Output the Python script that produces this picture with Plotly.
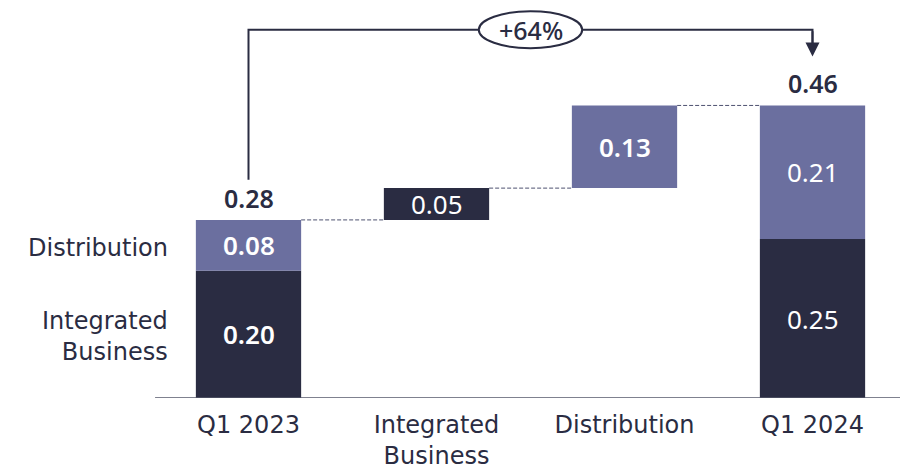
import plotly.graph_objects as go

# Earnings bridge: Q1 2023 -> Q1 2024, split by segment
categories = ["Q1 2023", "Integrated<br>Business", "Distribution", "Q1 2024"]
segments = ["Integrated Business", "Distribution"]

start_values = [0.20, 0.08]      # Q1 2023: Integrated Business, Distribution
change_values = [0.05, 0.13]     # increments: Integrated Business, Distribution
end_values = [0.25, 0.21]        # Q1 2024: Integrated Business, Distribution
start_total = 0.28
end_total = 0.46
growth_label = "+64%"

DARK = "#2a2c42"
LIGHT = "#6b6f9f"
TEXT = "#2a2c42"
WORD_FONT = "DejaVu Sans"
NUM_FONT = "Noto Sans"
BAR_W = 0.56

# running totals for the floating bars
level_after_integrated = start_total + change_values[0]
level_after_distribution = level_after_integrated + change_values[1]

fig = go.Figure()

# Integrated Business (dark) pieces
fig.add_trace(go.Bar(
    x=[categories[0], categories[1], categories[3]],
    y=[start_values[0], change_values[0], end_values[0]],
    base=[0, start_total, 0],
    marker=dict(color=DARK, line=dict(width=0)),
    width=BAR_W, hoverinfo="skip", showlegend=False,
))
# Distribution (light) pieces
fig.add_trace(go.Bar(
    x=[categories[0], categories[2], categories[3]],
    y=[start_values[1], change_values[1], end_values[1]],
    base=[start_values[0], level_after_integrated, end_values[0]],
    marker=dict(color=LIGHT, line=dict(width=0)),
    width=BAR_W, hoverinfo="skip", showlegend=False,
))

annotations = []

def inside_label(xi, y_mid, value, weight):
    annotations.append(dict(
        x=xi, y=y_mid, xref="x", yref="y", text=f"{value:.2f}", showarrow=False,
        font=dict(family=NUM_FONT, size=26, color="white", weight=weight),
    ))

inside_label(0, start_values[0] / 2, start_values[0], 600)
inside_label(0, start_values[0] + start_values[1] / 2, start_values[1], 600)
inside_label(1, start_total + change_values[0] / 2, change_values[0], 400)
inside_label(2, level_after_integrated + change_values[1] / 2, change_values[1], 600)
inside_label(3, end_values[0] / 2, end_values[0], 400)
inside_label(3, end_values[0] + end_values[1] / 2, end_values[1], 400)

# totals above the end bars
for xi, total in [(0, start_total), (3, end_total)]:
    annotations.append(dict(
        x=xi, y=total, xref="x", yref="y", text=f"{total:.2f}", showarrow=False,
        yanchor="bottom", yshift=3,
        font=dict(family=NUM_FONT, size=25, color=TEXT, weight=600),
    ))

# segment names to the left of the first bar
annotations.append(dict(
    x=-BAR_W / 2, y=start_values[0] + start_values[1] / 2, xref="x", yref="y",
    text=segments[1], showarrow=False, xanchor="right", xshift=-26, yshift=-3,
    font=dict(family=WORD_FONT, size=24, color=TEXT),
))
annotations.append(dict(
    x=-BAR_W / 2, y=start_values[0] / 2, xref="x", yref="y",
    text="Integrated<br>Business", showarrow=False, xanchor="right", xshift=-26,
    yshift=-2, align="right", font=dict(family=WORD_FONT, size=24, color=TEXT),
))

# growth bracket
BRACKET_Y = 0.579
annotations.append(dict(
    x=3, y=0.537, xref="x", yref="y", ax=3, ay=BRACKET_Y, axref="x", ayref="y",
    showarrow=True, arrowhead=2, arrowsize=1.4, arrowwidth=2, arrowcolor=TEXT, text="",
))
annotations.append(dict(
    x=1.5, y=BRACKET_Y, xref="x", yref="y", text=growth_label, showarrow=False,
    font=dict(family=NUM_FONT, size=25, color=TEXT, weight=500),
))

shapes = []
# bracket path
shapes.append(dict(
    type="path", xref="x", yref="y",
    path=f"M 0 0.343 L 0 {BRACKET_Y} L 3 {BRACKET_Y} L 3 0.55",
    line=dict(color=TEXT, width=2),
))
shapes.append(dict(
    type="circle", xref="x", yref="y",
    x0=1.5 - 0.275, x1=1.5 + 0.275, y0=BRACKET_Y - 0.029, y1=BRACKET_Y + 0.029,
    fillcolor="white", line=dict(color=TEXT, width=2),
))
# dashed connectors between consecutive bars
for xi, level in [(0, start_total), (1, level_after_integrated), (2, level_after_distribution)]:
    shapes.append(dict(
        type="line", xref="x", yref="y",
        x0=xi + BAR_W / 2, x1=xi + 1 - BAR_W / 2, y0=level, y1=level,
        line=dict(color="#4e5170", width=1, dash="4px,2px"),
    ))
# baseline
shapes.append(dict(
    type="line", xref="x", yref="y", x0=-0.497, x1=3.47, y0=0, y1=0,
    line=dict(color="#55576a", width=1.5),
))

fig.update_layout(
    width=900, height=470,
    margin=dict(l=0, r=0, t=0, b=72),
    paper_bgcolor="white", plot_bgcolor="white",
    barmode="overlay",
    xaxis=dict(
        type="category", categoryorder="array", categoryarray=categories,
        range=[-1.3218, 3.4654], showgrid=False, zeroline=False, showline=False,
        ticks="", ticklabelstandoff=10,
        tickfont=dict(family=WORD_FONT, size=24, color=TEXT),
    ),
    yaxis=dict(range=[0, 0.6258], visible=False),
    annotations=annotations, shapes=shapes,
)

fig.write_html("out.html")
